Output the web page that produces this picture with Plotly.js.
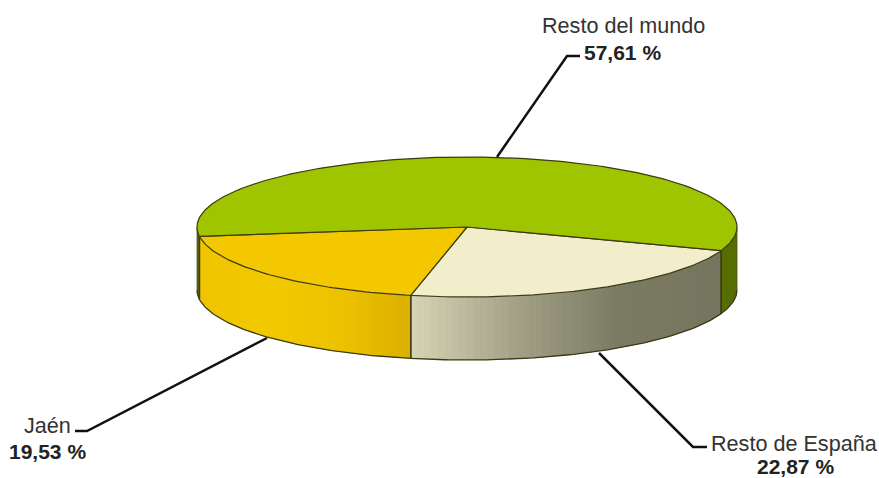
<!DOCTYPE html>
<html><head><meta charset="utf-8">
<script src="https://cdn.plot.ly/plotly-3.0.1.min.js"></script>
<style>html,body{margin:0;padding:0;background:#fff}#c{width:879px;height:478px}</style>
</head><body><div id="c"></div>
<script>
// Data
var categories = ['Resto de España', 'Jaén', 'Resto del mundo'];
var shares = [22.87, 19.53, 57.61];
var shareLabels = ['22,87 %', '19,53 %', '57,61 %'];

// Styling
var topColors = ['#f2eecb', '#f3c800', '#9fc400'];
var sideStops = [
  ['#767660', '#7b7b63', '#a3a287', '#d6d4b6'],
  ['#dcb000', '#ecc200', '#f1c900', '#eec500'],
  ['#566e00', '#566e00']
];
var edge = '#3d3a14';
var cx = 467, cy = 227, rx = 270, ry = 70, depth = 63, startDeg = 19.7;

function px(t){ return cx + rx*Math.cos(t*Math.PI/180); }
function py(t){ return cy + ry*Math.sin(t*Math.PI/180); }
function hex(c){ return [1,3,5].map(function(i){return parseInt(c.substr(i,2),16);}); }
function mix(stops, f){
  f = Math.max(0, Math.min(1, f)) * (stops.length-1);
  var i = Math.min(Math.floor(f), stops.length-2), u = f-i;
  var a = hex(stops[i]), b = hex(stops[i+1]);
  return 'rgb('+a.map(function(v,k){return Math.round(v+(b[k]-v)*u);}).join(',')+')';
}
var total = shares.reduce(function(a,b){return a+b;},0);
var slices = [], acc = startDeg;
shares.forEach(function(v,i){
  var span = v/total*360;
  slices.push({i:i, a:acc, b:acc+span}); acc += span;
});
function base(x,y,extra){
  return Object.assign({type:'scatter',mode:'lines',x:x,y:y,hoverinfo:'skip',showlegend:false,line:{width:0}},extra);
}
var traces = [];
// Side wall: only the part of each slice that faces the viewer
function visibleRanges(s){
  var out = [];
  [[0,180],[360,540]].forEach(function(w){
    var a = Math.max(s.a,w[0]), b = Math.min(s.b,w[1]);
    if (b>a) out.push([a,b]);
  });
  return out;
}
slices.forEach(function(s){
  visibleRanges(s).forEach(function(r){
    var x0 = px(r[0]), x1 = px(r[1]);
    var step = 1.5, t = r[0];
    while (t < r[1]){
      var e = Math.min(t+step, r[1]);
      var over = Math.min(e+step, r[1]);   // overlap the next band so no seams show
      var f = (px((t+e)/2)-x0)/(x1-x0);
      var col = mix(sideStops[s.i], f);
      var xs = [px(t)], ys = [py(t)];
      xs.push(px(e),px(over),px(over),px(e),px(t),px(t));
      ys.push(py(e),py(over),py(over)+depth,py(e)+depth,py(t)+depth,py(t));
      traces.push(base(xs,ys,{fill:'toself',fillcolor:col,line:{width:0}}));
      t = e;
    }
    var bx=[],by=[];
    for (var q=r[0]; q<r[1]; q+=1){ bx.push(px(q)); by.push(py(q)+depth); }
    bx.push(px(r[1])); by.push(py(r[1])+depth);
    traces.push(base(bx,by,{line:{color:edge,width:1.3}}));
    // vertical edges at slice boundaries and thin silhouettes
    [r[0],r[1]].forEach(function(q){
      var silhouette = (q%180===0);
      traces.push(base([px(q),px(q)],[py(q),py(q)+depth],{line:{color:edge,width:silhouette?0.7:1.4}}));
    });
  });
});
// Top faces
slices.forEach(function(s){
  var x=[cx], y=[cy];
  for (var t=s.a; t<s.b; t+=1){ x.push(px(t)); y.push(py(t)); }
  x.push(px(s.b),cx); y.push(py(s.b),cy);
  traces.push(base(x,y,{fill:'toself',fillcolor:topColors[s.i],line:{color:edge,width:1.2}}));
});
// Leader lines
var leaders = [
  {x:[599,693,707], y:[353,447,447]},
  {x:[267,87,75],   y:[338,431,431]},
  {x:[497,567,580], y:[157,56,56]}
];
leaders.forEach(function(l){
  traces.push(base(l.x,l.y,{line:{color:'#111',width:2.5}}));
});

var nameAt = [[794,443],[47,425],[623,25]];
var valAt  = [[795,466],[47,451],[622,52]];
var annotations = [];
categories.forEach(function(c,i){
  annotations.push({x:nameAt[i][0],y:nameAt[i][1],xref:'x',yref:'y',text:c,showarrow:false,
    font:{family:'Liberation Sans, Arial, sans-serif',size:21.6,color:'#333'},xanchor:'center',yanchor:'middle'});
  annotations.push({x:valAt[i][0],y:valAt[i][1],xref:'x',yref:'y',text:'<b>'+shareLabels[i]+'</b>',showarrow:false,
    font:{family:'Liberation Sans, Arial, sans-serif',size:21,color:'#222'},xanchor:'center',yanchor:'middle'});
});
var hiddenAxis = {visible:false,fixedrange:true,showgrid:false,zeroline:false};
Plotly.newPlot('c',traces,{
  width:879,height:478,margin:{l:0,r:0,t:0,b:0},
  paper_bgcolor:'#fff',plot_bgcolor:'#fff',showlegend:false,
  xaxis:Object.assign({range:[0,879]},hiddenAxis),
  yaxis:Object.assign({range:[478,0]},hiddenAxis),
  annotations:annotations
},{displayModeBar:false,staticPlot:true});
</script></body></html>
